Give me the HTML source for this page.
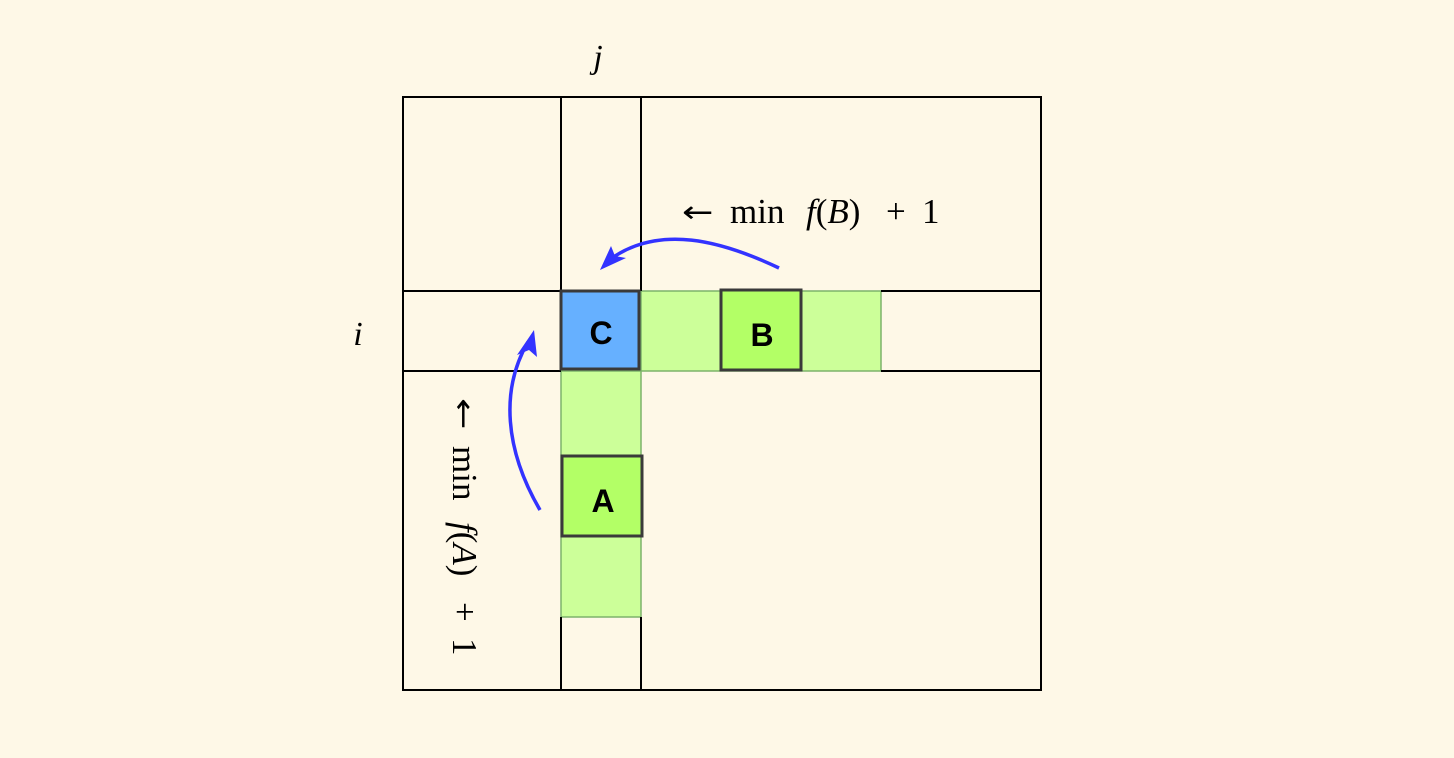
<!DOCTYPE html>
<html><head><style>
body{margin:0;background:#fef8e7;overflow:hidden;}
.m{font-family:"Liberation Serif",serif;}
.s{font-family:"Liberation Sans",sans-serif;font-weight:bold;}
.ar{font-family:"DejaVu Sans",sans-serif;}
</style></head><body>
<svg width="1454" height="758" viewBox="0 0 1454 758" xmlns="http://www.w3.org/2000/svg" style="display:block">
<rect width="1454" height="758" fill="#fef8e7"/>
<rect x="641" y="291" width="240" height="80" fill="#ccff99" stroke="#7db36a" stroke-width="1.5"/>
<rect x="561" y="371" width="80" height="246" fill="#ccff99" stroke="#7db36a" stroke-width="1.5"/>
<g stroke="#000" stroke-width="2" fill="none">
<rect x="403" y="97" width="638" height="593"/>
<line x1="561" y1="97" x2="561" y2="291"/><line x1="561" y1="617" x2="561" y2="690"/>
<line x1="641" y1="97" x2="641" y2="291"/><line x1="641" y1="617" x2="641" y2="690"/>
<line x1="403" y1="291" x2="561" y2="291"/><line x1="881" y1="291" x2="1041" y2="291"/>
<line x1="403" y1="371" x2="561" y2="371"/><line x1="881" y1="371" x2="1041" y2="371"/>
</g>
<rect x="561" y="291" width="78" height="78" fill="#66b0ff" stroke="#3a3a3a" stroke-width="3"/>
<rect x="721" y="290" width="80" height="80" fill="#b3ff66" stroke="#3a3a3a" stroke-width="3"/>
<rect x="562" y="456" width="80" height="80" fill="#b3ff66" stroke="#3a3a3a" stroke-width="3"/>
<text class="s" x="601" y="344" font-size="32" text-anchor="middle">C</text>
<text class="s" x="762" y="346" font-size="32" text-anchor="middle">B</text>
<text class="s" x="603" y="512" font-size="32" text-anchor="middle">A</text>
<g stroke="#3333ff" stroke-width="3.5" fill="none">
<path d="M779 268 C720 240 660 225 612 258"/>
<path d="M540 510 C505 450 500 390 528 342"/>
</g>
<polygon points="600,270 611,246 615,256 626,258" fill="#3333ff"/>
<polygon points="534,330 537,357 529,350 517,355" fill="#3333ff"/>
<text class="m" x="598" y="68" font-size="34" font-style="italic" text-anchor="middle">j</text>
<text class="m" x="358" y="345" font-size="34" font-style="italic" text-anchor="middle">i</text>
<g transform="translate(682,223)">
<text class="ar" x="0" y="-1" font-size="30" transform="scale(1.25,1)">←</text>
<text class="m" font-size="35"><tspan x="48">min</tspan><tspan x="124" font-style="italic">f</tspan><tspan>(</tspan><tspan font-style="italic">B</tspan><tspan>)</tspan><tspan x="204">+</tspan><tspan x="240">1</tspan></text>
</g>
<g transform="translate(453,398) rotate(90)">
<text class="ar" x="0" y="-1" font-size="30" transform="scale(1.25,1)">←</text>
<text class="m" font-size="35"><tspan x="48">min</tspan><tspan x="124" font-style="italic">f</tspan><tspan>(</tspan><tspan font-style="italic">A</tspan><tspan>)</tspan><tspan x="204">+</tspan><tspan x="240">1</tspan></text>
</g>
</svg>
</body></html>
